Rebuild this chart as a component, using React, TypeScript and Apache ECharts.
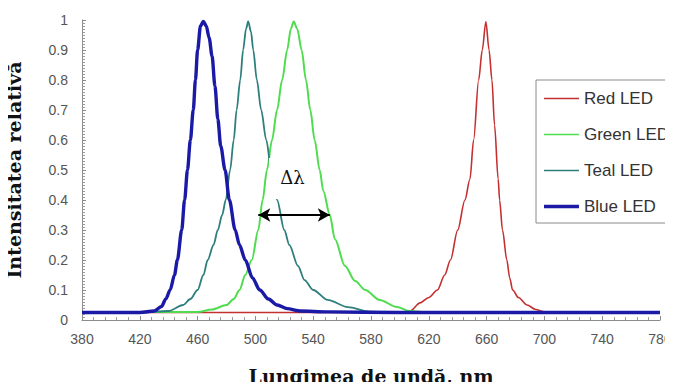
import React, { useEffect, useRef } from "react";
import * as echarts from "echarts";

const xTicks = { min: 380, max: 780, interval: 40 };

const redLED: [number, number][] = [
  [380, 0.025], [600, 0.025], [607, 0.03], [614, 0.057], [620, 0.075], [626, 0.1],
  [631, 0.15], [635, 0.2], [640, 0.3], [645, 0.4], [648.5, 0.47], [651, 0.6],
  [654.5, 0.8], [657, 0.9], [659.5, 0.995], [661.7, 0.9], [663.7, 0.8], [665.5, 0.65],
  [668, 0.47], [669, 0.4], [671, 0.3], [674, 0.2], [676, 0.14], [678, 0.1],
  [682, 0.075], [688, 0.05], [694, 0.035], [700, 0.027], [780, 0.025],
];

const greenLED: [number, number][] = [
  [380, 0.025], [460, 0.027], [470, 0.035], [480, 0.05], [485, 0.07], [489, 0.1],
  [493, 0.15], [497.5, 0.2], [502, 0.3], [505, 0.4], [508, 0.5], [511.5, 0.6],
  [515, 0.7], [518.5, 0.8], [522, 0.9], [524.5, 0.97], [526.5, 0.995], [529, 0.97],
  [532, 0.9], [535, 0.8], [538, 0.7], [541, 0.6], [544.5, 0.5], [547, 0.43],
  [551.5, 0.35], [555, 0.27], [562, 0.18], [569, 0.13], [576, 0.1], [586, 0.067],
  [598, 0.043], [607, 0.03], [620, 0.025], [780, 0.025],
];

const tealLED: [number, number][] = [
  [380, 0.025], [420, 0.025], [440, 0.03], [450, 0.05], [455, 0.07], [460, 0.1],
  [464, 0.15], [467, 0.2], [471, 0.25], [474, 0.3], [477, 0.35], [479.5, 0.4],
  [482.5, 0.5], [485, 0.6], [487, 0.7], [489.5, 0.8], [491.5, 0.9], [493.5, 0.97],
  [495, 0.995], [497, 0.96], [498.5, 0.9], [501, 0.8], [504, 0.7], [507.5, 0.6],
  [511, 0.5], [515, 0.4], [520, 0.3], [523.5, 0.25], [529.5, 0.18], [534, 0.133],
  [540, 0.1], [550, 0.067], [564, 0.043], [579, 0.028], [600, 0.025], [780, 0.025],
];

const blueLED: [number, number][] = [
  [380, 0.025], [420, 0.025], [430, 0.03], [435, 0.045], [438, 0.07], [441, 0.1],
  [444, 0.15], [446, 0.2], [449, 0.3], [451, 0.4], [453, 0.5], [455, 0.6],
  [457, 0.7], [458.5, 0.8], [460, 0.9], [462, 0.98], [464, 0.995], [466, 0.98],
  [468, 0.94], [470, 0.88], [472, 0.78], [474, 0.67], [476, 0.58], [479, 0.5],
  [482, 0.4], [486, 0.3], [489, 0.25], [493, 0.2], [498, 0.14], [503, 0.1],
  [509, 0.07], [515, 0.05], [522, 0.038], [531, 0.03], [550, 0.027], [600, 0.025],
  [780, 0.025],
];

// Δλ annotation: arrow across the green curve and its label
const deltaArrow: [number, number][] = [[502, 0.35], [551.5, 0.35]];
const deltaLabelAt: [number, number] = [524.3, 0.472];

const thinIcon = "path://M0,0h35v0.01h-35z M0,6.2h35v1.6h-35z M0,14h35v0.01h-35z";
const thickIcon = "path://M0,0h35v0.01h-35z M0,5.3h35v3.4h-35z M0,14h35v0.01h-35z";

export default function App() {
  const ref = useRef<HTMLDivElement>(null);
  useEffect(() => {
    if (!ref.current) return;
    const chart = echarts.init(ref.current, undefined, { renderer: "svg" });
    const mk = (name: string, data: [number, number][], color: string, width: number, extra: any = {}) => ({
      name,
      type: "line",
      data,
      symbol: "none",
      smooth: 0.3,
      smoothMonotone: "x",
      lineStyle: { color, width },
      itemStyle: { color },
      ...extra,
    });
    chart.setOption({
      animation: false,
      backgroundColor: "#ffffff",
      grid: { left: 82, right: 13, top: 20, bottom: 70, containLabel: false, outerBoundsMode: "none" },
      legend: {
        orient: "vertical",
        left: 536,
        top: 80,
        padding: [10, 8, 8, 8],
        itemGap: 19,
        itemWidth: 35,
        itemHeight: 14,
        backgroundColor: "#ffffff",
        borderColor: "#8a8a8a",
        borderWidth: 1,
        textStyle: { fontFamily: "Liberation Sans", fontSize: 17, color: "#333" },
        data: [
          { name: "Red LED", icon: thinIcon },
          { name: "Green LED", icon: thinIcon },
          { name: "Teal LED", icon: thinIcon },
          { name: "Blue LED", icon: thickIcon },
        ],
      },
      xAxis: {
        type: "value",
        min: xTicks.min,
        max: xTicks.max,
        interval: xTicks.interval,
        name: "Lungimea de undă, nm",
        nameLocation: "middle",
        nameGap: 46,
        nameTextStyle: { fontFamily: "DejaVu Serif", fontWeight: "bold", fontSize: 19, color: "#111" },
        axisLine: { lineStyle: { color: "#8c8c8c", width: 1 } },
        axisTick: { inside: true, length: 4, lineStyle: { color: "#8c8c8c" } },
        minorTick: { show: true, splitNumber: 5, length: 3, lineStyle: { color: "#9a9a9a" } },
        splitLine: { show: false },
        axisLabel: { margin: 12, fontFamily: "Liberation Sans", fontSize: 14, color: "#555" },
      },
      yAxis: {
        type: "value",
        min: 0,
        max: 1,
        interval: 0.1,
        name: "Intensitatea relativă",
        nameLocation: "middle",
        nameGap: 59,
        nameTextStyle: { fontFamily: "DejaVu Serif", fontWeight: "bold", fontSize: 19, color: "#111" },
        axisLine: { show: true, lineStyle: { color: "#8c8c8c", width: 1 } },
        axisTick: { show: true, inside: true, length: 4, lineStyle: { color: "#8c8c8c" } },
        minorTick: { show: true, splitNumber: 10, length: 3, lineStyle: { color: "#9a9a9a" } },
        splitLine: { show: false },
        axisLabel: { margin: 14, fontFamily: "Liberation Sans", fontSize: 14, color: "#555" },
      },
      series: [
        mk("Red LED", redLED, "#c43030", 1.6),
        mk("Green LED", greenLED, "#4fdc4f", 2, {
          markLine: {
            silent: true,
            symbol: ["arrow", "arrow"],
            symbolSize: [10, 12],
            label: { show: false },
            lineStyle: { color: "#000", width: 2, type: "solid" },
            data: [[{ coord: deltaArrow[0] }, { coord: deltaArrow[1] }]],
          },
          markPoint: {
            silent: true,
            symbol: "rect",
            symbolSize: [43, 41],
            itemStyle: { color: "#ffffff" },
            label: {
              show: true,
              position: "inside",
              formatter: "Δλ",
              fontFamily: "DejaVu Serif",
              fontSize: 18,
              color: "#111",
              offset: [2, -1],
            },
            data: [{ coord: deltaLabelAt }],
          },
        }),
        mk("Teal LED", tealLED, "#2e7e7c", 1.8),
        mk("Blue LED", blueLED, "#1a1aa6", 3.4),
      ],
    });
    return () => chart.dispose();
  }, []);
  return <div ref={ref} style={{ width: 673, height: 390, margin: -8 }} />;
}
